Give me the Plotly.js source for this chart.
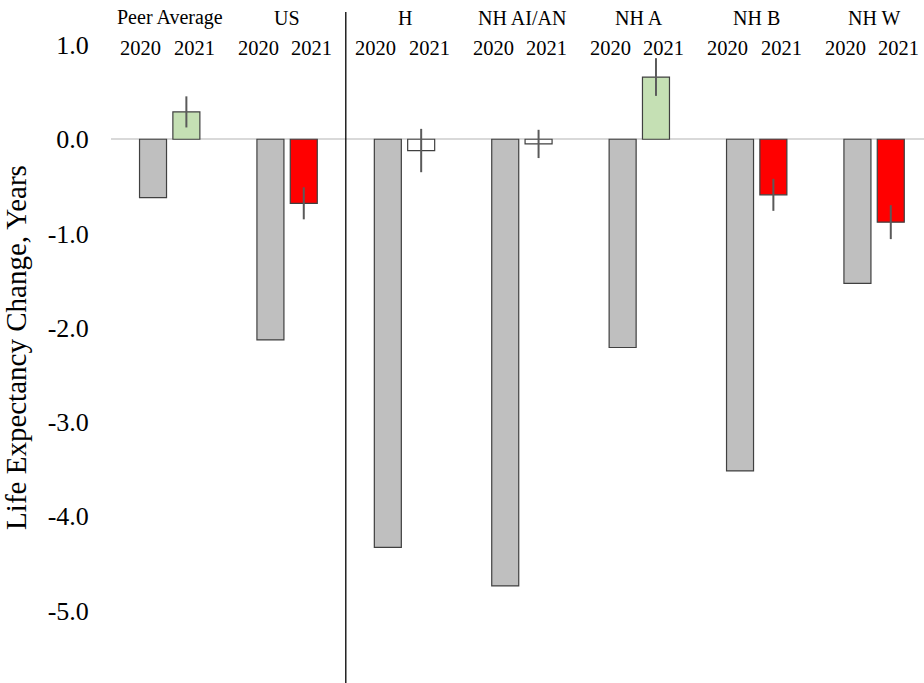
<!DOCTYPE html>
<html>
<head>
<meta charset="utf-8">
<script src="https://cdn.plot.ly/plotly-3.0.1.min.js"></script>
<style>html,body{margin:0;padding:0;background:#fff;}#chart{width:924px;height:683px;}</style>
</head>
<body>
<div id="chart"></div>
<script>
// ---- data ----
var groups = ['Peer Average', 'US', 'H', 'NH AI/AN', 'NH A', 'NH B', 'NH W'];
var yearLabels = ['2020', '2021'];
var change2020 = [-0.62, -2.13, -4.33, -4.74, -2.21, -3.52, -1.53];
var change2021 = [0.29, -0.68, -0.12, -0.05, 0.66, -0.59, -0.88];
var err2021 = [0.165, 0.17, 0.23, 0.15, 0.20, 0.17, 0.18];
var yTickVals = [1, 0, -1, -2, -3, -4, -5];
var yTickText = ['1.0', '0.0', '-1.0', '-2.0', '-3.0', '-4.0', '-5.0'];

// ---- styles ----
var FONT = "'Liberation Serif', 'Times New Roman', serif";
var GREY = '#BFBFBF', GREEN = '#C5E0B4', RED = '#FF0000', WHITE = '#FFFFFF';
var colors2021 = change2021.map(function (v, i) {
  if (v - err2021[i] > 0) return GREEN;
  if (v + err2021[i] < 0) return RED;
  return WHITE;
});

var idx = groups.map(function (g, i) { return i; });

var trace2020 = {
  type: 'bar', x: idx, y: change2020, name: yearLabels[0],
  marker: { color: GREY, line: { color: '#404040', width: 1.2 } },
  hoverinfo: 'skip'
};
var trace2021 = {
  type: 'bar', x: idx, y: change2021, name: yearLabels[1],
  marker: { color: colors2021, line: { color: '#404040', width: 1.2 } },
  error_y: { type: 'data', array: err2021, visible: true, width: 0, thickness: 2, color: '#5A5A5A' },
  hoverinfo: 'skip'
};

var annotations = [];
groups.forEach(function (g, i) {
  annotations.push({ x: i, y: 1.29, xref: 'x', yref: 'y', text: g, showarrow: false,
    xanchor: 'center', yanchor: 'middle', font: { family: FONT, size: 20, color: '#000' } });
  annotations.push({ x: i - 0.245, y: 0.97, xref: 'x', yref: 'y', text: yearLabels[0], showarrow: false,
    xanchor: 'center', yanchor: 'middle', font: { family: FONT, size: 20.5, color: '#000' } });
  annotations.push({ x: i + 0.21, y: 0.97, xref: 'x', yref: 'y', text: yearLabels[1], showarrow: false,
    xanchor: 'center', yanchor: 'middle', font: { family: FONT, size: 20.5, color: '#000' } });
});

var layout = {
  width: 924, height: 683,
  margin: { l: 111, r: 0, t: 12, b: 0, pad: 0 },
  paper_bgcolor: '#fff', plot_bgcolor: '#fff',
  showlegend: false,
  barmode: 'group', bargap: 0.432, bargroupgap: 0.19,
  font: { family: FONT, color: '#000' },
  xaxis: {
    type: 'linear', range: [-0.5, 6.425], showgrid: false, zeroline: false,
    showline: false, showticklabels: false, ticks: ''
  },
  yaxis: {
    range: [-5.77, 1.35], showgrid: false, showline: false,
    zeroline: true, zerolinecolor: '#D9D9D9', zerolinewidth: 2,
    tickmode: 'array', tickvals: yTickVals, ticktext: yTickText,
    ticks: 'outside', ticklen: 16, tickcolor: 'rgba(0,0,0,0)',
    tickfont: { family: FONT, size: 26, color: '#000' },
    title: { text: 'Life Expectancy Change, Years', font: { family: FONT, size: 29, color: '#000' }, standoff: 12 }
  },
  shapes: [{
    type: 'line', xref: 'x', yref: 'paper', x0: 1.5, x1: 1.5, y0: 0, y1: 1,
    line: { color: '#000', width: 1.3 }
  }],
  annotations: annotations
};

Plotly.newPlot('chart', [trace2020, trace2021], layout, { staticPlot: true, displayModeBar: false });
</script>
</body>
</html>
